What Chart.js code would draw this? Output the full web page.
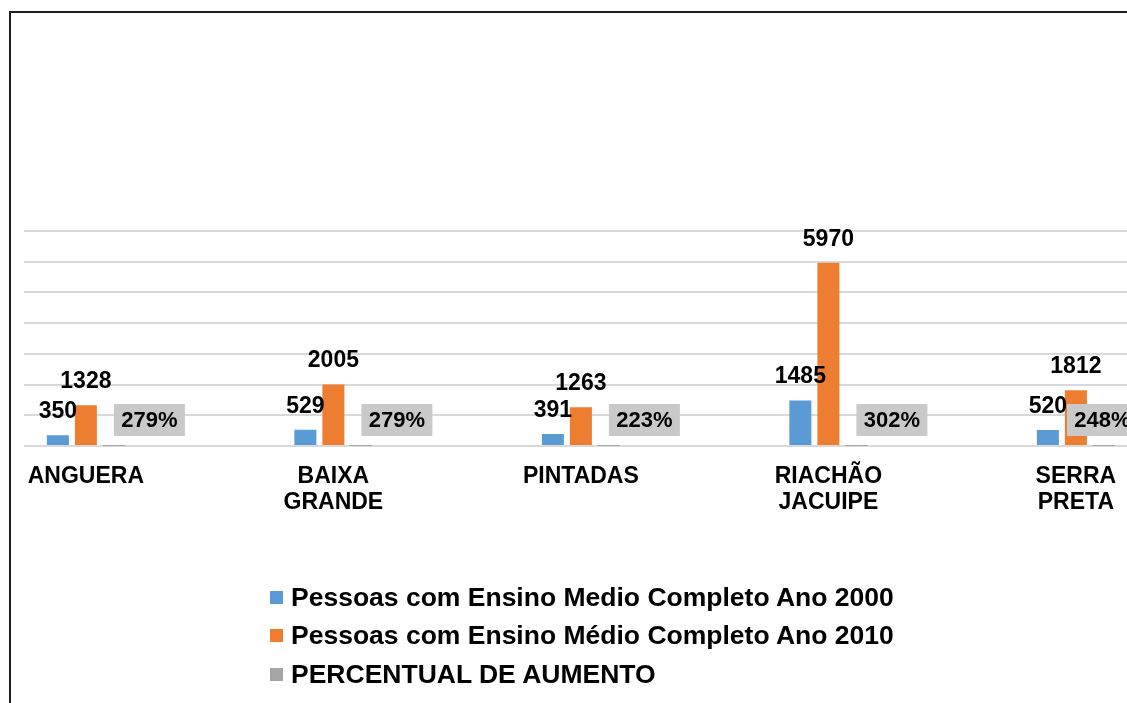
<!DOCTYPE html>
<html>
<head>
<meta charset="utf-8">
<script src="https://cdn.jsdelivr.net/npm/chart.js@4"></script>
<style>
  html, body { margin: 0; padding: 0; background: #fff; overflow: hidden; }
  #wrap { position: relative; width: 1127px; height: 703px; overflow: hidden; }
  #frame { position: absolute; left: 9px; top: 11px; width: 1300px; height: 900px;
           border-left: 2px solid #1f1f1f; border-top: 2px solid #1f1f1f; }
  #chart { position: absolute; left: 0; top: 0; }
  #legend { position: absolute; left: 270px; top: 578px; font-family: "Liberation Sans", Arial, sans-serif;
            font-weight: bold; font-size: 26.5px; color: #000; }
  #legend .row { display: flex; align-items: center; height: 38.5px; white-space: nowrap; }
  #legend .sq { width: 13px; height: 13px; margin-right: 8px; flex: none; }
</style>
</head>
<body>
<div id="wrap">
  <div id="frame"></div>
  <canvas id="chart" width="1280" height="703"></canvas>
  <div id="legend"></div>
</div>
<script>
// data
const municipios = [["ANGUERA"], ["BAIXA", "GRANDE"], ["PINTADAS"], ["RIACHÃO", "JACUIPE"], ["SERRA", "PRETA"]];
const ano2000 = [350, 529, 391, 1485, 520];
const ano2010 = [1328, 2005, 1263, 5970, 1812];
const percentual = [2.79, 2.79, 2.23, 3.02, 2.48];
const seriesNames = [
  "Pessoas com Ensino Medio Completo Ano 2000",
  "Pessoas com Ensino Médio Completo Ano 2010",
  "PERCENTUAL DE AUMENTO"
];
const yMax = 7000;
const yStep = 1000;

// every municipality is followed by an empty slot, as in the original sheet layout
const spread = arr => arr.flatMap(v => [v, null]);
const labels = municipios.flatMap(m => [m, ""]);

Chart.defaults.font.family = '"Liberation Sans", Arial, sans-serif';
Chart.defaults.color = "#000";

const valueLabels = {
  id: "valueLabels",
  afterDatasetsDraw(chart) {
    const ctx = chart.ctx;
    ctx.save();
    chart.data.datasets.forEach((ds, di) => {
      const meta = chart.getDatasetMeta(di);
      meta.data.forEach((bar, i) => {
        const v = ds.data[i];
        if (v == null) return;
        if (di < 2) {
          ctx.font = "bold 23px 'Liberation Sans', Arial, sans-serif";
          ctx.fillStyle = "#000";
          ctx.textAlign = "center";
          ctx.textBaseline = "alphabetic";
          ctx.fillText(String(v), bar.x, bar.y - 17);
        } else {
          const txt = Math.round(v * 100) + "%";
          ctx.font = "bold 22px 'Liberation Sans', Arial, sans-serif";
          const w = 71, h = 32;
          let cx = bar.x + 35.5;
          if (cx + w / 2 > 1138) cx = 1138 - w / 2;
          const cy = bar.base - 25;
          ctx.fillStyle = "#c9c9c9";
          ctx.fillRect(cx - w / 2, cy - h / 2, w, h);
          ctx.fillStyle = "#000";
          ctx.textAlign = "center";
          ctx.textBaseline = "middle";
          ctx.fillText(txt, cx, cy + 1);
        }
      });
    });
    ctx.restore();
  }
};

const chart = new Chart(document.getElementById("chart"), {
  type: "bar",
  data: {
    labels,
    datasets: [
      { label: seriesNames[0], data: spread(ano2000), backgroundColor: "#5b9bd5" },
      { label: seriesNames[1], data: spread(ano2010), backgroundColor: "#ed7d31" },
      { label: seriesNames[2], data: spread(percentual), backgroundColor: "#a5a5a5", borderWidth: 0 }
    ]
  },
  options: {
    responsive: false,
    animation: false,
    categoryPercentage: 0.679,
    barPercentage: 0.786,
    layout: { padding: { left: 24, top: 231, right: 18.5, bottom: 0 } },
    plugins: {
      legend: { display: false },
      tooltip: { enabled: false }
    },
    scales: {
      x: {
        grid: { display: false },
        border: { display: false },
        ticks: {
          font: { size: 23, weight: "bold", lineHeight: 1.13 },
          color: "#000",
          padding: 10,
          maxRotation: 0,
          autoSkip: false
        },
        afterFit(scale) { scale.height = 703 - 446; }
      },
      y: {
        min: 0,
        max: yMax,
        ticks: { display: false, stepSize: yStep },
        grid: { color: "#d9d9d9", lineWidth: 2, drawTicks: false },
        border: { display: false },
        afterFit(scale) { scale.width = 0; }
      }
    }
  },
  plugins: [valueLabels]
});

// legend as stacked rows, like the original
const legendBox = document.getElementById("legend");
chart.data.datasets.forEach(ds => {
  const row = document.createElement("div");
  row.className = "row";
  const sq = document.createElement("span");
  sq.className = "sq";
  sq.style.background = ds.backgroundColor;
  const t = document.createElement("span");
  t.textContent = ds.label;
  row.appendChild(sq);
  row.appendChild(t);
  legendBox.appendChild(row);
});
</script>
</body>
</html>
